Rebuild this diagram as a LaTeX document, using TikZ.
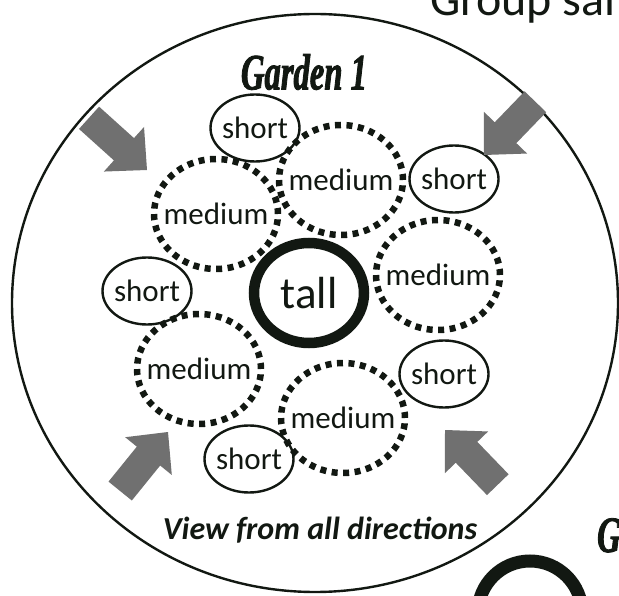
\documentclass[tikz,border=0pt]{standalone}
\usepackage{fontspec}
\setmainfont{Carlito}
\newfontfamily\gardenfont{Liberation Serif Bold Italic}[FakeStretch=0.64, FakeBold=1.6]
\usetikzlibrary{shapes.geometric}
\definecolor{ink}{RGB}{18,24,18}
\definecolor{arrowgray}{RGB}{112,112,112}
\newcommand\zw[1]{\makebox[0pt]{#1}}
\newcommand\grayarrow[3]{%
  \begin{scope}[shift={(#1)},rotate=#2]
    \fill[arrowgray] (-#3,-15) -- (-31,-15) -- (-31,-30) -- (0,0) -- (-31,30) -- (-31,15) -- (-#3,15) -- cycle;
  \end{scope}}
\tikzset{
  shortbox/.style={ellipse, draw=ink, text=ink, line width=2.4pt, minimum width=89pt, minimum height=67pt, inner sep=0pt,
    font=\fontsize{31}{31}\selectfont},
  mediumbox/.style={ellipse, draw=ink, text=ink, line width=6.5pt, dash pattern=on 6pt off 5.5pt,
    minimum width=124pt, minimum height=110pt, inner sep=0pt, font=\fontsize{31}{31}\selectfont},
  tallbox/.style={ellipse, draw=ink, text=ink, line width=10.5pt, minimum width=110pt, minimum height=100pt, inner sep=0pt,
    font=\fontsize{45}{45}\selectfont},
  gardenlabel/.style={text=ink, inner sep=0pt, font=\gardenfont\fontsize{51}{51}\selectfont},
  viewlabel/.style={text=ink, inner sep=0pt, font=\bfseries\itshape\fontsize{32}{32}\selectfont},
  titlelabel/.style={text=ink, inner sep=0pt, font=\fontsize{48}{48}\selectfont},
}
\begin{document}
\begin{tikzpicture}[x=1pt,y=-1pt]
\useasboundingbox (0,0) rectangle (619,596);
\clip (0,0) rectangle (619,596);
\fill[white] (0,0) rectangle (619,596);
% title (cut off)
\node[titlelabel, anchor=base west] (title) at (430,16) {Group sam};
% garden outline
\draw[ink, line width=2.4pt] (315,303) ellipse [x radius=303, y radius=289];
\node[gardenlabel] (g1) at (304,72) {Garden 1};
% medium plants
\node[mediumbox] (m1) at (216,214) {\zw{medium}};
\node[mediumbox] (m2) at (341,180) {\zw{medium}};
\node[mediumbox] (m3) at (438,275) {\zw{medium}};
\node[mediumbox] (m4) at (199,369) {\zw{medium}};
\node[mediumbox] (m5) at (343,418) {\zw{medium}};
% short plants
\node[shortbox] (s1) at (255,128) {\zw{short}};
\node[shortbox] (s2) at (454,179) {\zw{short}};
\node[shortbox] (s3) at (147,291) {\zw{short}};
\node[shortbox] (s4) at (444,374) {\zw{short}};
\node[shortbox] (s5) at (249,459) {\zw{short}};
% tall plant
\node[tallbox] (t) at (309,293) {\zw{tall}};
% view arrows
\grayarrow{147,170}{-42}{78}
\grayarrow{484,155}{-134}{74}
\grayarrow{168,432}{51}{76}
\grayarrow{445,430}{134}{76}
\node[viewlabel] (view) at (320,530) {View from all directions};
% next garden (cut off)
\node[gardenlabel, anchor=base west] (g2) at (597,552) {Garden 2};
\draw[ink, line width=13pt] (530,613) circle [radius=52];
\end{tikzpicture}
\end{document}
